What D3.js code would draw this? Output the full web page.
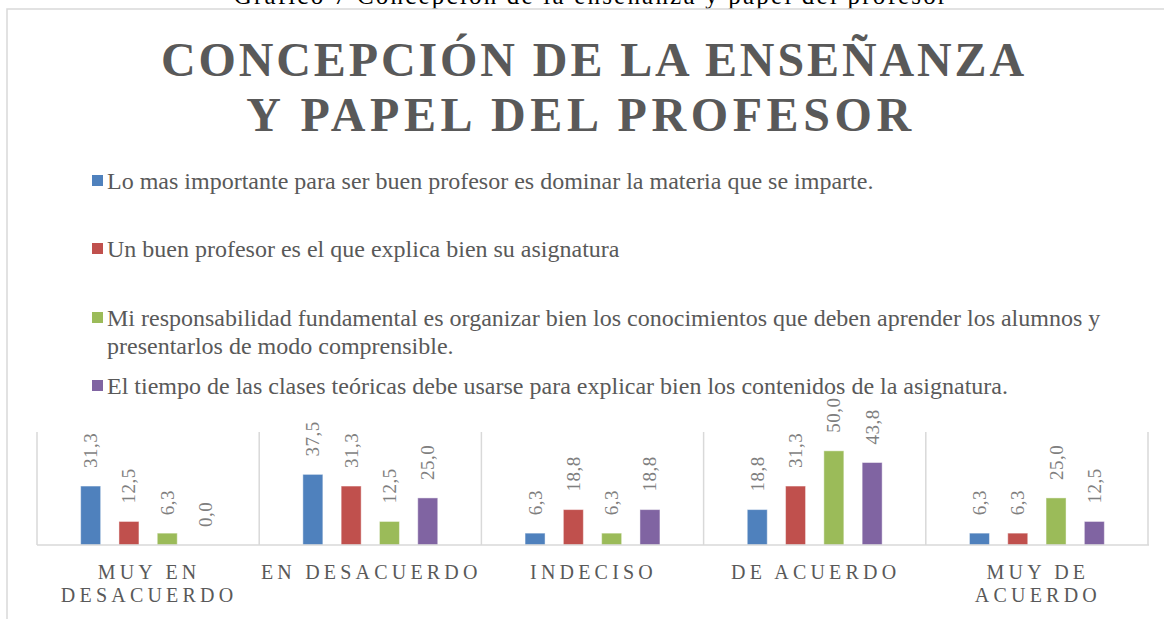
<!DOCTYPE html>
<html>
<head>
<meta charset="utf-8">
<script src="https://cdn.jsdelivr.net/npm/d3@7"></script>
<style>
  body { margin: 0; background: #fff; }
  text { font-family: "Liberation Serif", "Times New Roman", serif; }
</style>
</head>
<body>
<div id="chart"></div>
<script>
// data
const categories = [["MUY EN", "DESACUERDO"], ["EN DESACUERDO"], ["INDECISO"], ["DE ACUERDO"], ["MUY DE", "ACUERDO"]];
const seriesNames = [
  ["Lo mas importante para ser buen profesor es dominar la materia que se imparte."],
  ["Un buen profesor es el que explica bien su asignatura"],
  ["Mi responsabilidad fundamental es organizar bien los conocimientos que deben aprender los alumnos y", "presentarlos de modo comprensible."],
  ["El tiempo de las clases teóricas debe usarse para explicar bien los contenidos de la asignatura."]
];
const muyDesacuerdo = [31.3, 12.5, 6.3, 0.0];
const desacuerdo = [37.5, 31.3, 12.5, 25.0];
const indeciso = [6.3, 18.8, 6.3, 18.8];
const deAcuerdo = [18.8, 31.3, 50.0, 43.8];
const muyDeAcuerdo = [6.3, 6.3, 25.0, 12.5];
const colors = ["#4f81bd", "#c0504d", "#9bbb59", "#8064a2"];

const values = [muyDesacuerdo, desacuerdo, indeciso, deAcuerdo, muyDeAcuerdo];

let w = 1164, h = 619;

let svg = d3.select("#chart")
            .append("svg")
            .attr("width", w)
            .attr("height", h);

// caption above the chart box (mostly cut off)
svg.append("text")
   .attr("x", 591)
   .attr("y", 4)
   .attr("text-anchor", "middle")
   .style("font-size", "25px")
   .style("letter-spacing", "2.2px")
   .style("fill", "#000")
   .text("Gráfico 7 Concepción de la enseñanza y papel del profesor");

// chart box
svg.append("rect")
   .attr("x", 7)
   .attr("y", 9)
   .attr("width", w + 20)
   .attr("height", h + 20)
   .style("fill", "none")
   .style("stroke", "#d9d9d9")
   .style("stroke-width", 1.5);

// title
let titleLines = [["CONCEPCIÓN DE LA ENSEÑANZA", 594, 76, 2.9], ["Y PAPEL DEL PROFESOR", 581, 131, 4.6]];
svg.selectAll(".title")
   .data(titleLines)
   .enter()
   .append("text")
   .attr("class", "title")
   .attr("x", d => d[1])
   .attr("y", d => d[2])
   .attr("text-anchor", "middle")
   .style("font-size", "48px")
   .style("font-weight", "bold")
   .style("letter-spacing", d => `${d[3]}px`)
   .style("fill", "#595959")
   .text(d => d[0]);

// legend
let legendY = [189, 257, 326, 394];
let legend = svg.selectAll(".legend")
   .data(seriesNames)
   .enter()
   .append("g")
   .attr("class", "legend")
   .attr("transform", (d, i) => `translate(92, ${legendY[i]})`);

legend.append("rect")
   .attr("x", 0)
   .attr("y", -14)
   .attr("width", 11)
   .attr("height", 11)
   .style("fill", (d, i) => colors[i]);

legend.append("text")
   .style("font-size", "24px")
   .style("fill", "#595959")
   .selectAll("tspan")
   .data(d => d)
   .enter()
   .append("tspan")
   .attr("x", 15)
   .attr("dy", (d, i) => i == 0 ? 0 : 28)
   .text(d => d);

// scales
let x = d3.scaleBand()
          .domain(d3.range(categories.length))
          .range([37, 1148]);

let xs = d3.scaleBand()
           .domain(d3.range(colors.length))
           .range([0, x.bandwidth()])
           .paddingInner(0.478)
           .paddingOuter(1.14);

let y = d3.scaleLinear()
          .domain([0, 60])
          .range([545, 432]);

// category separators
svg.selectAll(".sep")
   .data(d3.range(categories.length + 1))
   .enter()
   .append("line")
   .attr("class", "sep")
   .attr("x1", d => 37 + d * x.step())
   .attr("x2", d => 37 + d * x.step())
   .attr("y1", y(60))
   .attr("y2", y(0))
   .style("stroke", "#d9d9d9")
   .style("stroke-width", 1.5);

let groups = svg.selectAll(".cat")
   .data(values)
   .enter()
   .append("g")
   .attr("class", "cat")
   .attr("transform", (d, i) => `translate(${x(i)}, 0)`);

groups.selectAll("rect")
   .data(d => d)
   .enter()
   .append("rect")
   .attr("x", (d, i) => xs(i))
   .attr("y", d => y(d))
   .attr("width", xs.bandwidth())
   .attr("height", d => y(0) - y(d))
   .style("fill", (d, i) => colors[i])
   .style("stroke", "rgba(255,255,255,0.45)")
   .style("stroke-width", 1);

// rotated value labels
groups.selectAll(".val")
   .data(d => d)
   .enter()
   .append("text")
   .attr("class", "val")
   .attr("transform", (d, i) => `translate(${xs(i) + xs.bandwidth() / 2 + 6.5}, ${y(d) - 18}) rotate(-90)`)
   .style("font-size", "19px")
   .style("letter-spacing", "0.5px")
   .style("fill", "#7f7f7f")
   .text(d => d.toFixed(1).replace(".", ","));

// baseline
svg.append("line")
   .attr("x1", 37)
   .attr("x2", 1149)
   .attr("y1", y(0))
   .attr("y2", y(0))
   .style("stroke", "#d9d9d9")
   .style("stroke-width", 1.5);

// category labels
svg.selectAll(".catlabel")
   .data(categories)
   .enter()
   .append("text")
   .attr("class", "catlabel")
   .attr("text-anchor", "middle")
   .style("font-size", "20px")
   .style("letter-spacing", "4.2px")
   .style("fill", "#595959")
   .selectAll("tspan")
   .data((d, i) => d.map(t => [t, i]))
   .enter()
   .append("tspan")
   .attr("x", d => x(d[1]) + x.bandwidth() / 2 + 1)
   .attr("y", (d, j) => 579 + j * 23)
   .text(d => d[0]);
</script>
</body>
</html>
